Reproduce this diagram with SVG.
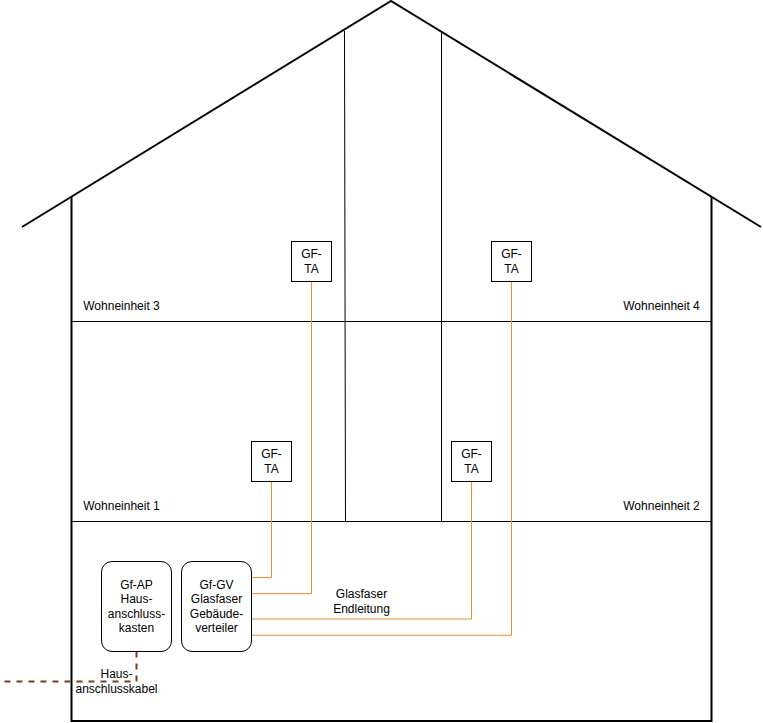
<svg xmlns="http://www.w3.org/2000/svg" width="763" height="723" viewBox="0 0 763 723">
<style>
text{font-family:"Liberation Sans",Arial,sans-serif;font-size:12px;fill:#000;text-anchor:middle}
.box{fill:#fff;stroke:#000;stroke-width:1}
.st{fill:none;stroke:#000;stroke-width:2}
.thin{fill:none;stroke:#000;stroke-width:1}
.fib{fill:none;stroke:#ed8b2e;stroke-width:1}
.cab{fill:none;stroke:#7a3b22;stroke-width:2;stroke-dasharray:6 6}
</style>
<rect width="763" height="723" fill="#fff"/>
<g id="building">
<path class="st" d="M71.500 197V721H711.500V197"/>
<path class="st" d="M22 227L391 1L761 227"/>
<path class="thin" d="M71.500 321.500H711.500M71.500 521.500H711.500"/>
<path class="thin" d="M344.500 31L345.500 521.500M441.500 31V521.500"/>
</g>
<g id="connectors">
<path class="fib" d="M251.500 577.600H271.500V481.500"/>
<path class="fib" d="M251.500 593.700H311.500V281.500"/>
<path class="fib" d="M251.500 619H471.500V481.500"/>
<path class="fib" d="M251.500 635.300H511.500V281.500"/>
<path class="cab" d="M136.500 651.500V681.500H0"/>
</g>
<g id="gfta3"><rect class="box" x="291.500" y="241.500" width="40" height="40"/><text x="311.500" y="258">GF-</text><text x="311.500" y="273">TA</text></g>
<g id="gfta4"><rect class="box" x="491.500" y="241.500" width="40" height="40"/><text x="511.500" y="258">GF-</text><text x="511.500" y="273">TA</text></g>
<g id="gfta1"><rect class="box" x="251.500" y="441.500" width="40" height="40"/><text x="271.500" y="458">GF-</text><text x="271.500" y="473">TA</text></g>
<g id="gfta2"><rect class="box" x="451.500" y="441.500" width="40" height="40"/><text x="471.500" y="458">GF-</text><text x="471.500" y="473">TA</text></g>
<g id="gfap"><rect class="box" x="101.500" y="561.500" width="70" height="90" rx="10.500"/><text x="136.500" y="589">Gf-AP</text><text x="136.500" y="603.400">Haus-</text><text x="136.500" y="618">anschluss-</text><text x="136.500" y="632.400">kasten</text></g>
<g id="gfgv"><rect class="box" x="181.500" y="561.500" width="70" height="90" rx="10.500"/><text x="216.500" y="589">Gf-GV</text><text x="216.500" y="603.400">Glasfaser</text><text x="216.500" y="618">Gebäude-</text><text x="216.500" y="632.400">verteiler</text></g>
<g id="labels">
<text x="121.500" y="310">Wohneinheit 3</text>
<text x="661.500" y="310">Wohneinheit 4</text>
<text x="121.500" y="510">Wohneinheit 1</text>
<text x="661.500" y="510">Wohneinheit 2</text>
<text x="361.500" y="598">Glasfaser</text>
<text x="361.500" y="613">Endleitung</text>
<text x="116.500" y="678">Haus-</text>
<text x="116.500" y="693">anschlusskabel</text>
</g>
</svg>
